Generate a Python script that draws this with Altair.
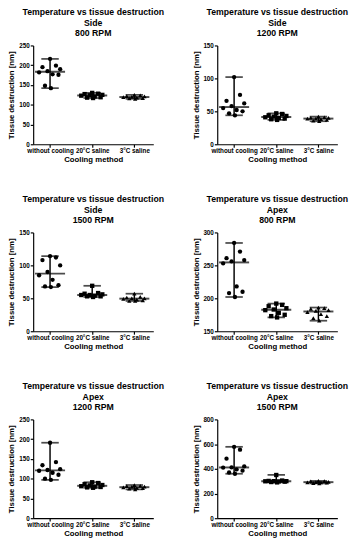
import altair as alt
import pandas as pd

GROUPS = ["without cooling", "20°C saline", "3°C saline"]
SHAPES = ["circle", "square", "triangle-up"]

# horizontal scatter of the 10 points in each group (fraction of group step)
JITTER = [0.0, 0.14, -0.18, 0.24, -0.06, -0.26, 0.06, 0.2, -0.12, 0.02]

SIDE_800_NONE = [216, 199, 195, 190, 185, 182, 177, 176, 148, 142]
SIDE_800_20C = [130, 128, 127, 125, 124, 123, 121, 119, 118, 117]
SIDE_800_3C = [125, 124, 122, 121, 120, 119, 118, 117, 116, 115]

SIDE_1200_NONE = [102, 75, 66, 62, 58, 55, 52, 50, 47, 44]
SIDE_1200_20C = [47, 46, 44, 43, 42, 41, 40, 39, 38, 37]
SIDE_1200_3C = [42, 41, 40, 40, 39, 39, 38, 37, 36, 35]

SIDE_1500_NONE = [114, 112, 108, 100, 90, 85, 78, 70, 68, 67]
SIDE_1500_20C = [69, 58, 57, 56, 55, 55, 54, 53, 53, 52]
SIDE_1500_3C = [57, 52, 51, 50, 50, 49, 48, 47, 46, 46]

APEX_800_NONE = [284, 271, 261, 258, 256, 253, 218, 210, 208, 202]
APEX_800_20C = [192, 190, 188, 185, 183, 182, 178, 175, 173, 171]
APEX_800_3C = [186, 185, 184, 182, 181, 179, 176, 173, 170, 166]

APEX_1200_NONE = [191, 142, 134, 124, 122, 120, 115, 110, 100, 97]
APEX_1200_20C = [91, 89, 86, 84, 83, 81, 80, 79, 78, 77]
APEX_1200_3C = [84, 82, 81, 80, 79, 78, 77, 76, 75, 73]

APEX_1500_NONE = [578, 555, 482, 420, 412, 410, 395, 385, 370, 360]
APEX_1500_20C = [350, 305, 302, 300, 300, 299, 298, 296, 293, 290]
APEX_1500_3C = [302, 300, 298, 295, 293, 291, 290, 288, 285, 282]

FONT = "Liberation Sans"
XDOM = [-0.4, 2.45]


def panel(site, rpm, series, ydomain, yticks):
    rows = []
    for gi, vals in enumerate(series):
        for k, v in enumerate(vals):
            rows.append({"gi": gi, "group": GROUPS[gi], "value": v, "j": JITTER[k]})
    df = pd.DataFrame(rows)
    base = alt.Chart(df)
    xscale = alt.Scale(domain=XDOM, nice=False, zero=False)
    yscale = alt.Scale(domain=ydomain, nice=False)
    label_expr = "['without cooling','20°C saline','3°C saline'][datum.value]"
    xaxis = alt.Axis(values=[0, 1, 2], labelExpr=label_expr, title="Cooling method",
                     grid=False, labelOverlap=False, labelPadding=1, titlePadding=1)
    yaxis = alt.Axis(values=yticks, title="Tissue destruction [nm]", grid=False,
                     labelOverlap=False, labelPadding=1, titlePadding=3)

    def X(f):
        return alt.X(f, scale=xscale, axis=xaxis)

    def Y(f):
        return alt.Y(f, scale=yscale, axis=yaxis)

    pts = base.transform_calculate(pos="datum.gi + datum.j").mark_point(
        filled=True, color="black", size=20, opacity=1
    ).encode(
        x=X("pos:Q"),
        y=Y("value:Q"),
        shape=alt.Shape("gi:N", scale=alt.Scale(domain=[0, 1, 2], range=SHAPES), legend=None),
    )
    agg = base.transform_aggregate(
        med="median(value)", lo="min(value)", hi="max(value)", groupby=["gi"]
    )
    rule = agg.mark_rule(color="black", strokeWidth=1.5).encode(
        x=X("gi:Q"), y=Y("lo:Q"), y2="hi:Q"
    )
    med = agg.mark_tick(orient="horizontal", color="black", size=31, thickness=2).encode(
        x=X("gi:Q"), y=Y("med:Q")
    )
    cap_lo = agg.mark_tick(orient="horizontal", color="black", size=18, thickness=1.8).encode(
        x=X("gi:Q"), y=Y("lo:Q")
    )
    cap_hi = agg.mark_tick(orient="horizontal", color="black", size=18, thickness=1.8).encode(
        x=X("gi:Q"), y=Y("hi:Q")
    )
    return alt.layer(pts, rule, med, cap_lo, cap_hi).properties(
        width=124, height=102,
        title=alt.TitleParams(
            ["Temperature vs tissue destruction", site, rpm],
            fontSize=9, fontWeight="bold", font=FONT, anchor="middle",
            lineHeight=10.5, offset=5, color="black",
        ),
    )


p1 = panel("Side", "800 RPM", [SIDE_800_NONE, SIDE_800_20C, SIDE_800_3C], [0, 250], [0, 50, 100, 150, 200, 250])
p2 = panel("Side", "1200 RPM", [SIDE_1200_NONE, SIDE_1200_20C, SIDE_1200_3C], [0, 150], [0, 50, 100, 150])
p3 = panel("Side", "1500 RPM", [SIDE_1500_NONE, SIDE_1500_20C, SIDE_1500_3C], [0, 150], [0, 50, 100, 150])
p4 = panel("Apex", "800 RPM", [APEX_800_NONE, APEX_800_20C, APEX_800_3C], [150, 300], [150, 200, 250, 300])
p5 = panel("Apex", "1200 RPM", [APEX_1200_NONE, APEX_1200_20C, APEX_1200_3C], [0, 250], [0, 50, 100, 150, 200, 250])
p6 = panel("Apex", "1500 RPM", [APEX_1500_NONE, APEX_1500_20C, APEX_1500_3C], [0, 800], [0, 200, 400, 600, 800])

chart = alt.vconcat(
    alt.hconcat(p1, p2, spacing=28),
    alt.hconcat(p3, p4, spacing=28),
    alt.hconcat(p5, p6, spacing=28),
    spacing=33,
).properties(
    padding={"left": 0, "top": -8, "right": 0, "bottom": 0}
).configure_view(stroke=None).configure_axis(
    domainColor="black", tickColor="black", labelColor="black", titleColor="black",
    labelFont=FONT, titleFont=FONT, labelFontWeight="bold", titleFontWeight="bold",
    labelFontSize=6.5, titleFontSize=8, tickSize=3, domainWidth=1.2, tickWidth=1.2,
).configure_concat(spacing=28)

chart.save("out.html", embed_options={"renderer": "svg", "actions": False})
